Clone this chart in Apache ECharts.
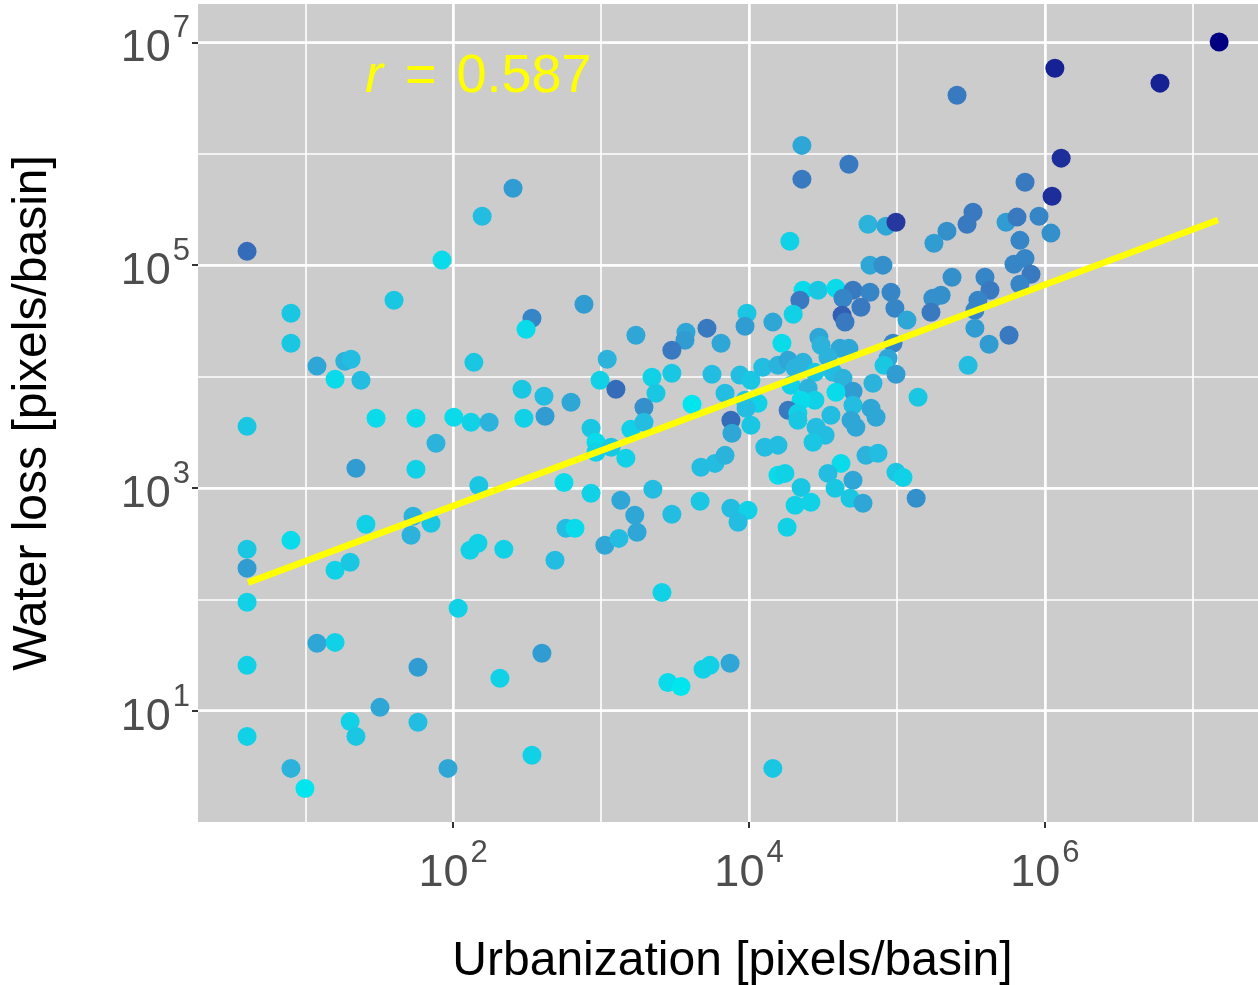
<!DOCTYPE html>
<html>
<head>
<meta charset="utf-8">
<script src="https://cdn.jsdelivr.net/npm/echarts@6/dist/echarts.min.js"></script>
<style>
html, body { margin: 0; padding: 0; background: #fff; }
#main { width: 1258px; height: 985px; }
</style>
</head>
<body>
<div id="main"></div>
<script>
// urbanization per basin (x) and water loss per basin (y), pixels/basin
var urbanization = [
    4.04, 84, 157, 254, 2.28e4, 4.74e4, 2.28e4, 6.38e4, 8.44e4, 9.86e4,
    1.89e4, 6.58e4, 8.05e4, 2.55e5, 1.17e6, 6.01e6, 1.51e7, 1.29e6, 7.35e5, 1.12e6,
    3.27e5, 2.98e5, 2.18e5, 1.78e5, 5.47e5, 6.49e5, 9.14e5, 1.10e6, 6.79e5, 7.35e5,
    6.19e5, 2.36e5, 3.94e5, 8.07e5, 6.79e5, 1.99e5, 1.75e5, 4.26e5, 3.53e5, 1.70e5,
    3.37e5, 3.37e5, 5.73e5, 4.20e5, 3.03e5, 1.39e5, 1.35e5, 8.0, 8.0, 39.8,
    12.0, 18.5, 20.4, 15.9, 23.8, 4.04, 30.1, 56.0, 101, 132,
    175, 76.5, 22.0, 56.0, 138, 341, 311, 292, 411, 301,
    418, 149, 561, 25.7, 53.5, 70.8, 51.9, 8.0, 4.04, 147,
    130, 220, 579, 666, 488, 4.04, 15.9, 20.1, 4.04, 108,
    12.0, 15.9, 4.04, 57.8, 398, 207, 32.0, 20.1, 22.0, 57.8,
    4.04, 341, 8.0, 92.2, 9.95, 1.06e3, 2.58e3, 2.83e3, 3.47e3, 4.89e3,
    5.45e3, 7.45e3, 1.45e4, 766, 2.32e4, 2.93e4, 3.87e4, 2.21e4, 5.05e4, 6.58e4,
    9.12e4, 4.32e4, 5.71e4, 9.70e4, 4.26e4, 4.46e4, 1.17e5, 9.69e3, 9.40e3, 1.45e4,
    1.99e4, 1.72e3, 3.75e3, 3.69e3, 5.20e3, 6.47e3, 3.01e3, 1.10e3, 1.67e4, 2.97e4,
    3.07e4, 4.12e4, 4.74e4, 9.42e4, 8.71e4, 8.18e4, 9.86e4, 984, 1.26e3, 626,
    2.21e3, 2.35e3, 3.01e3, 1.95e3, 4.12e3, 5.62e3, 6.89e3, 8.69e3, 1.03e4, 1.24e4,
    1.57e4, 1.84e4, 2.32e4, 2.05e4, 2.79e4, 3.42e4, 3.70e4, 4.32e4, 5.05e4, 6.89e4,
    3.87e4, 1.92e4, 2.51e4, 2.79e4, 2.25e4, 1.84e4, 2.14e4, 2.14e4, 9.40e3, 1.15e4,
    9.55e3, 7.55e3, 7.67e3, 1.03e4, 5.05e4, 6.68e4, 7.23e4, 3.58e4, 4.90e4, 5.28e4,
    2.84e4, 3.27e4, 2.71e4, 855, 924, 924, 1.17e3, 1.59e3, 1.95e3, 1.47e3,
    1.28e4, 1.57e4, 4.73e3, 5.89e3, 6.89e3, 1.57e4, 1.75e4, 4.19e4, 3.42e4, 5.05e4,
    3.82e4, 4.82e4, 5.90e4, 6.18e4, 7.45e4, 9.86e4, 1.10e5, 2.25e4, 2.05e4, 2.62e4,
    1.81e4, 855, 1.36e3, 2.24e3, 1.69e3, 1.75e3, 3.01e3, 4.67e3, 7.55e3, 9.84e3,
    8.43e3, 1.32e3
];
var waterLoss = [
    1.33e5, 1.11e5, 2.75e5, 4.91e5, 1.19e6, 8.07e5, 5.92e5, 2.33e5, 2.24e5, 2.43e5,
    1.64e5, 1.0e5, 1.0e5, 3.36e6, 5.87e6, 4.31e6, 1.01e7, 9.14e5, 5.56e5, 4.16e5,
    2.99e5, 2.33e5, 2.02e5, 1.57e5, 2.43e5, 2.70e5, 2.75e5, 1.94e5, 1.67e5, 1.15e5,
    1.02e5, 7.80e4, 7.80e4, 8.30e4, 6.75e4, 5.37e4, 5.05e4, 5.96e4, 4.84e4, 3.78e4,
    3.94e4, 2.72e4, 2.35e4, 1.95e4, 1.26e4, 6.52e3, 807, 3.70e4, 1.99e4, 4.84e4,
    1.24e4, 1.37e4, 1.43e4, 9.46e3, 9.26e3, 3.57e3, 4.22e3, 4.22e3, 4.31e3, 3.88e3,
    3.88e3, 2.52e3, 1.50e3, 1.47e3, 1.34e4, 3.34e4, 2.66e4, 7.69e3, 6.65e3, 4.22e3,
    4.40e3, 1.05e3, 1.12e3, 471, 556, 481, 375, 338, 281, 318,
    275, 281, 434, 434, 224, 190, 182, 215, 93.9, 83.0,
    40.2, 41.0, 25.5, 24.5, 32.7, 19.5, 10.7, 8.0, 5.87, 7.85,
    5.87, 3.97, 3.03, 3.03, 2.0, 305, 115, 17.9, 16.5, 23.5,
    25.5, 26.6, 3.03, 4.46e4, 5.96e4, 5.96e4, 6.21e4, 4.84e4, 5.96e4, 5.71e4,
    5.71e4, 5.05e4, 4.19e4, 4.10e4, 3.55e4, 3.08e4, 3.21e4, 3.70e4, 2.83e4, 3.08e4,
    3.62e4, 2.35e4, 2.50e4, 2.12e4, 2.72e4, 1.99e4, 1.72e4, 1.43e4, 1.99e4, 2.25e4,
    1.91e4, 1.79e4, 1.79e4, 1.99e4, 1.46e4, 1.26e4, 1.05e4, 9.26e3, 7.69e3, 5.87e3,
    9.84e3, 7.08e3, 1.07e4, 5.30e3, 5.64e3, 1.05e4, 7.08e3, 1.03e4, 9.26e3, 1.21e4,
    1.26e4, 1.40e4, 1.34e4, 1.19e4, 1.09e4, 1.49e4, 1.09e4, 9.66e3, 7.38e3, 8.71e3,
    7.23e3, 8.35e3, 7.85e3, 6.12e3, 6.12e3, 4.98e3, 4.68e3, 4.05e3, 6.12e3, 5.75e3,
    5.19e3, 4.05e3, 3.09e3, 3.65e3, 5.52e3, 5.19e3, 4.31e3, 4.49e3, 4.05e3, 3.50e3,
    3.50e3, 2.97e3, 2.57e3, 3.43e3, 2.57e3, 2.09e3, 2.32e3, 3.36e3, 3.88e3, 1.85e3,
    2.32e3, 2.42e3, 1.53e3, 1.66e3, 1.96e3, 1.30e3, 1.35e3, 1.66e3, 1.35e3, 1.17e3,
    991, 807, 728, 1.96e3, 2.05e3, 1.38e3, 1.24e3, 1.01e3, 698, 743,
    443, 895, 774, 971, 568, 399, 579, 759, 656, 630,
    491, 352
];
// colour scale value of each point (0 = cyan, 1 = navy)
var tone = [
    .55, .05, .2, .35, .3, .5, .5, .25, .3, .75,
    .1, .3, .4, .5, .85, .85, 1, .8, .5, .8,
    .5, .5, .4, .35, .35, .5, .45, .4, .45, .45,
    .45, .4, .45, .5, .45, .4, .4, .5, .45, .5,
    .45, .35, .5, .35, .2, .15, .4, .15, .15, .15,
    .3, .25, .2, .05, .2, .15, .05, .05, .05, .1,
    .25, .25, .35, .1, .15, .45, .05, .15, .2, .1,
    .35, .15, .05, .1, .25, .15, .25, .05, .15, .1,
    .1, .1, .2, .05, .2, .35, .1, .15, .1, .1,
    .3, .1, .1, .35, .35, .1, .3, .1, .15, .2,
    .1, .1, .25, .3, 0, .3, .1, .05, 0, .1,
    .1, .3, .15, .35, .05, .15, .05, .5, .5, .45,
    .45, .45, .5, .45, .6, .5, .3, .15, .35, .3,
    .1, .3, .3, .35, .5, .3, .5, .25, .05, .3,
    .25, .3, .3, .45, .3, .15, .35, .1, .55, .3,
    .1, .15, .15, .4, 0, .2, .2, .2, .15, .2,
    .25, .3, .25, .25, .15, .25, .2, .25, .35, .25,
    .05, .1, .25, .1, .05, .5, .1, .15, .15, .1,
    .2, .55, .3, .15, .2, .3, .3, .2, .3, .3,
    .2, .2, .15, .15, .05, .1, .15, .1, .2, .1,
    .2, .2, .2, .2, .25, .05, .1, .05, .2, .3,
    .15, .15, .3, .25, .2, .15, .1, .15, .1, .1,
    .1, .1, .3, .2, .3, .3, .2, .15, .2, .1,
    .2, .2
];
// fitted regression line end points
var fitUrban = [4.1, 1.48e7];
var fitLoss = [141, 2.54e5];
// labelled decades (exponents)
var xTickExp = [2, 4, 6];
var yTickExp = [1, 3, 5, 7];

var FONT = 'Liberation Sans';

var myChart = echarts.init(document.getElementById('main'));

var points = urbanization.map(function (u, i) {
    return [u, waterLoss[i], tone[i]];
});
var fitLine = fitUrban.map(function (u, i) {
    return [u, fitLoss[i]];
});

var powLabel = {
    formatter: function (v) {
        return '{b|10}{s|' + v + '}';
    },
    rich: {
        b: { fontSize: 45, fontFamily: FONT, color: '#4d4d4d', lineHeight: 46, verticalAlign: 'bottom' },
        s: { fontSize: 31, fontFamily: FONT, color: '#4d4d4d', padding: [0, 0, 27, 2] }
    }
};
var majorLine = { show: true, lineStyle: { color: '#ffffff', width: 2.5 } };
var minorLine = { show: true, showMinLine: false, showMaxLine: false, lineStyle: { color: '#ffffff', width: 1.6 } };
var tickStyle = { show: true, length: 6, lineStyle: { color: '#333333', width: 2 } };

var option = {
    backgroundColor: '#ffffff',
    animation: false,
    grid: [
        // panel
        { left: 198, top: 4, width: 1069, height: 818, show: true, backgroundColor: '#cccccc', borderWidth: 0, outerBoundsMode: 'none' },
        // x major decades 10^2 .. 10^6
        { left: 453.2, top: 4, width: 591.6, height: 818, show: false, outerBoundsMode: 'none' },
        // y major decades 10^1 .. 10^7
        { left: 198, top: 42.4, width: 1069, height: 668.2, show: false, outerBoundsMode: 'none' }
    ],
    xAxis: [
        {
            gridIndex: 0, type: 'log', logBase: 10,
            min: 1.882, max: 3.18e7,
            axisLine: { show: false }, axisTick: { show: false }, axisLabel: { show: false },
            splitLine: minorLine,
            name: 'Urbanization [pixels/basin]',
            nameLocation: 'middle', nameGap: 116,
            nameTextStyle: { fontSize: 48, fontFamily: FONT, color: '#000000' }
        },
        {
            gridIndex: 1, type: 'value',
            min: xTickExp[0], max: xTickExp[xTickExp.length - 1], interval: 2,
            axisLine: { show: false }, axisTick: tickStyle,
            axisLabel: Object.assign({ margin: 16 }, powLabel),
            splitLine: majorLine
        },
        { gridIndex: 2, type: 'value', show: false, splitLine: { show: false } }
    ],
    yAxis: [
        {
            gridIndex: 0, type: 'log', logBase: 10,
            min: 1, max: 2.213e7,
            axisLine: { show: false }, axisTick: { show: false }, axisLabel: { show: false },
            splitLine: minorLine,
            name: 'Water loss [pixels/basin]',
            nameLocation: 'middle', nameRotate: 90, nameGap: 141,
            nameTextStyle: { fontSize: 48, fontFamily: FONT, color: '#000000' }
        },
        { gridIndex: 1, type: 'value', show: false, splitLine: { show: false } },
        {
            gridIndex: 2, type: 'value',
            min: yTickExp[0], max: yTickExp[yTickExp.length - 1], interval: 2,
            axisLine: { show: false }, axisTick: tickStyle,
            axisLabel: Object.assign({ margin: 8 }, powLabel),
            splitLine: majorLine
        }
    ],
    visualMap: {
        show: false,
        type: 'continuous',
        seriesIndex: 0,
        dimension: 2,
        min: 0,
        max: 1,
        inRange: { color: ['#00e5ee', '#2bb3dc', '#3979c0', '#24389f', '#000080'] }
    },
    graphic: [{
        type: 'text',
        x: 365, y: 77,
        style: {
            text: '{i|r}{e|=}{n|0.587}',
            fill: '#ffff00',
            verticalAlign: 'middle',
            rich: {
                i: { fontSize: 54, fontFamily: FONT, fontStyle: 'italic', fill: '#ffff00' },
                e: { fontSize: 54, fontFamily: FONT, fill: '#ffff00', padding: [0, 20, 0, 22] },
                n: { fontSize: 54, fontFamily: FONT, fill: '#ffff00' }
            }
        }
    }],
    series: [
        {
            type: 'scatter',
            xAxisIndex: 0, yAxisIndex: 0,
            symbolSize: 19,
            itemStyle: { opacity: 1 },
            data: points,
            z: 2
        },
        {
            type: 'line',
            xAxisIndex: 0, yAxisIndex: 0,
            data: fitLine,
            showSymbol: false,
            silent: true,
            lineStyle: { color: '#ffff00', width: 6.5 },
            z: 3
        }
    ]
};

myChart.setOption(option);
</script>
</body>
</html>
